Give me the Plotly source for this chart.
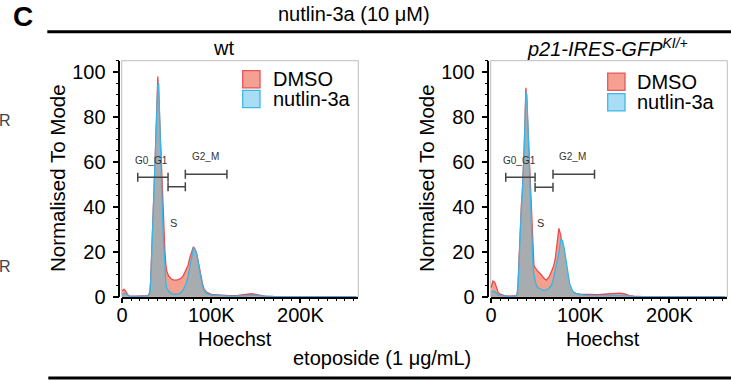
import plotly.graph_objects as go

W, H = 731, 381

# Hoechst intensity (thousands) sampling grid
hoechst_k = [0, 2, 4, 6, 8, 10, 15, 20, 25, 28, 29, 30, 31, 32, 33, 34, 35, 36, 37, 38, 39, 40,
             41, 42, 43, 44, 45, 46, 47, 48, 49, 50, 52, 55, 58, 60, 62, 65, 68, 70, 72, 74, 76,
             78, 80, 82, 84, 86, 88, 90, 92, 95, 100, 110, 120, 130, 140, 145, 150, 155, 160,
             170, 200, 262]

wt_dmso = [2.5, 3.3, 2.5, 1.0, 0.4, 0.2, 0.2, 0.2, 0.3, 0.4, 0.5, 1.0, 2, 7, 20, 30, 40, 50, 60,
           76, 88, 98, 90, 80, 70, 60, 46, 36, 27, 20, 14.5, 11.5, 9.3, 8, 7.4, 7.4, 7.5, 7.9, 9,
           10.5, 12, 14, 17.5, 20.5, 22.2, 21, 18.5, 14.5, 10, 6, 3.3, 1.9, 1.0, 0.7, 0.5, 0.6,
           1.0, 1.3, 1.0, 0.5, 0.2, 0.1, 0.05, 0.05]
wt_nutlin = [1.2, 1.5, 1.2, 0.5, 0.2, 0.1, 0.1, 0.1, 0.2, 0.3, 0.3, 0.6, 1.5, 6, 18, 28, 38, 48,
             58, 72, 85, 94, 95, 78, 66, 54, 40, 28, 19, 11, 6.5, 4, 2.5, 1.5, 1.1, 1.0, 1.1, 1.6,
             2.6, 4, 6, 9, 13, 18.5, 21.7, 21, 18.5, 13.5, 9, 5, 2.8, 1.5, 0.7, 0.4, 0.3, 0.3,
             0.5, 0.7, 0.6, 0.4, 0.2, 0.05, 0.03, 0.03]
p21_dmso = [4, 7, 6.5, 3.5, 1.8, 1.2, 0.5, 0.3, 0.3, 0.5, 1, 4, 14, 26, 35, 41, 47, 55, 65, 79,
            93, 87, 78, 68, 57, 46, 36, 26, 17, 14, 13, 12.3, 11.5, 10.3, 8.8, 7.9, 7.4, 8.8,
            11.5, 13.5, 17, 23.5, 30.4, 27.5, 22, 17, 11, 7, 4.2, 2.8, 2, 1.5, 1.1, 1.0, 0.9,
            1.2, 1.6, 1.6, 1.2, 0.5, 0.2, 0.05, 0.03, 0.03]
p21_nutlin = [2, 2.5, 2.3, 1.5, 0.8, 0.5, 0.2, 0.1, 0.2, 0.3, 0.8, 3, 12, 24, 33, 40, 46, 54, 64,
              78, 91, 90, 78, 67, 55, 43, 28, 18, 13, 10, 8, 6, 4.2, 3.3, 2.8, 2.8, 3, 3.8, 5.5,
              8.2, 11.5, 15, 19.5, 25.3, 25, 21.5, 15.5, 10, 6, 3.8, 2.2, 1.5, 0.9, 0.5, 0.4,
              0.4, 0.6, 0.6, 0.5, 0.3, 0.1, 0.03, 0.02, 0.02]

gate_names = ["G0_G1", "S", "G2_M"]
wt_gate_start = [17.5, 51.5, 70.9]
wt_gate_end = [51.5, 70.9, 117.6]
wt_gate_y = [53.1, 48.9, 54.5]
wt_label_x = [33, 57.8, 93]
wt_label_y = [60.4, 32.6, 62.4]
p21_gate_start = [16.4, 49.3, 69.4]
p21_gate_end = [49.3, 69.4, 116.0]
p21_gate_y = [53.1, 48.7, 54.5]
p21_label_x = [32, 55.5, 91.8]
p21_label_y = [60.4, 32.6, 62.2]

x_tickvals = [0, 100, 200]
x_ticktext = ["0", "100K", "200K"]
series_names = ["DMSO", "nutlin-3a"]

FONT = "Liberation Sans, Arial, sans-serif"
RED_LINE, RED_FILL = "#EE4A4C", "#F4A08F"
CYAN_LINE, GRAY_FILL = "#35B5E8", "#A8ACAF"
LEG_FILL = ["#F4A192", "#A9DDF6"]
LEG_LINE = ["#E8545A", "#3CB7E8"]


def px(x):
    return x / W


def py(y):
    return 1 - y / H


fig = go.Figure()
panels = [
    ("x", "y", wt_dmso, wt_nutlin),
    ("x2", "y2", p21_dmso, p21_nutlin),
]
for xa, ya, dmso, nut in panels:
    fig.add_trace(go.Scatter(x=hoechst_k, y=dmso, mode="lines", fill="tozeroy",
                             fillcolor=RED_FILL, line=dict(color=RED_LINE, width=1.3),
                             xaxis=xa, yaxis=ya, showlegend=False, name=series_names[0]))
    fig.add_trace(go.Scatter(x=hoechst_k, y=nut, mode="lines", fill="tozeroy",
                             fillcolor=GRAY_FILL, line=dict(color=CYAN_LINE, width=1.3),
                             xaxis=xa, yaxis=ya, showlegend=False, name=series_names[1]))

xdom = [[121.7, 358.3], [490.7, 727.3]]
ydom = [py(296.7), py(60.7)]

common_x = dict(range=[-0.5, 265], showline=True, linecolor="black", linewidth=1.5,
                ticks="outside", tickvals=x_tickvals, ticktext=x_ticktext, ticklen=5,
                tickwidth=1.5, tickcolor="black", showgrid=False, zeroline=False,
                automargin=False, ticklabelstandoff=-5,
                tickfont=dict(family=FONT, size=20, color="black"),
                minor=dict(dtick=10, tick0=0, ticks="outside", ticklen=3, tickwidth=1,
                           tickcolor="black", showgrid=False))
common_y = dict(range=[0, 105], showline=True, linecolor="black", linewidth=1.5,
                ticks="outside", dtick=20, tick0=0, ticklen=6, tickwidth=1.5,
                tickcolor="black", showgrid=False, zeroline=False, anchor="free",
                automargin=False, ticklabelstandoff=3,
                tickfont=dict(family=FONT, size=20, color="black"),
                minor=dict(dtick=5, tick0=0, ticks="outside", ticklen=3, tickwidth=1,
                           tickcolor="black", showgrid=False))

fig.update_layout(
    width=W, height=H, margin=dict(l=0, r=0, t=0, b=0, autoexpand=False),
    plot_bgcolor="white", paper_bgcolor="white", showlegend=False,
    font=dict(family=FONT, color="black"),
    xaxis=dict(domain=[px(xdom[0][0]), px(xdom[0][1])], anchor="y", **common_x),
    xaxis2=dict(domain=[px(xdom[1][0]), px(xdom[1][1])], anchor="y2", **common_x),
    yaxis=dict(domain=ydom, position=px(xdom[0][0] - 2.4), **common_y),
    yaxis2=dict(domain=ydom, position=px(xdom[1][0] - 2.4), **common_y),
)

shapes = []
annotations = []
gate_sets = [
    ("x", "y", wt_gate_start, wt_gate_end, wt_gate_y, wt_label_x, wt_label_y),
    ("x2", "y2", p21_gate_start, p21_gate_end, p21_gate_y, p21_label_x, p21_label_y),
]
for xa, ya, gs, ge, gy, lx, ly in gate_sets:
    shapes.append(dict(type="rect", xref=xa + " domain", yref=ya + " domain",
                       x0=0, x1=1, y0=0, y1=1, line=dict(color="#BDBDBD", width=1),
                       layer="below"))
    for i, nm in enumerate(gate_names):
        ln = dict(color="#454545", width=1.5)
        shapes.append(dict(type="line", xref=xa, yref=ya, x0=gs[i], x1=ge[i], y0=gy[i],
                           y1=gy[i], line=ln))
        for xe in (gs[i], ge[i]):
            shapes.append(dict(type="line", xref=xa, yref=ya, x0=xe, x1=xe, y0=gy[i] - 2,
                               y1=gy[i] + 2, line=ln))
        annotations.append(dict(xref=xa, yref=ya, x=lx[i], y=ly[i], text=nm,
                                showarrow=False,
                                font=dict(size=11 if nm == "S" else 10, color="#333333")))

# legends (boxes + labels)
legend_pos = [
    (242.7, [79.2, 99.0], 270.7),
    (607.7, [81.7, 102.3], 634.5),
]
for bx, cys, tx in legend_pos:
    for i, nm in enumerate(series_names):
        shapes.append(dict(type="rect", xref="paper", yref="paper", x0=px(bx),
                           x1=px(bx + 17.3), y0=py(cys[i] + 8.6), y1=py(cys[i] - 8.6),
                           fillcolor=LEG_FILL[i], line=dict(color=LEG_LINE[i], width=1.3)))
        annotations.append(dict(xref="paper", yref="paper", x=px(tx), y=py(cys[i]),
                                xanchor="left", yanchor="middle", text=nm, showarrow=False,
                                font=dict(size=20, color="black")))

# rules
shapes.append(dict(type="line", xref="paper", yref="paper", x0=px(47.3), x1=1,
                   y0=py(31.7), y1=py(31.7), line=dict(color="black", width=3)))
shapes.append(dict(type="line", xref="paper", yref="paper", x0=px(48.3), x1=1,
                   y0=py(378), y1=py(378), line=dict(color="black", width=3)))

texts = [
    (22.5, 17, "<b>C</b>", 28, 0),
    (353.5, 14, "nutlin-3a (10 μM)", 20, 0),
    (382, 358, "etoposide (1 μg/mL)", 20, 0),
    (223, 48, "wt", 20, 0),
    (607, 47, "<i>p21-IRES-GFP</i><sup><i>KI/+</i></sup>", 20, 0),
    (235, 339, "Hoechst", 20, 0),
    (603, 339, "Hoechst", 20, 0),
    (57, 178, "Normalised To Mode", 20.5, -90),
    (426, 178, "Normalised To Mode", 20.5, -90),
]
for x, y, t, s, ang in texts:
    annotations.append(dict(xref="paper", yref="paper", x=px(x), y=py(y), text=t,
                            showarrow=False, textangle=ang, xanchor="center",
                            yanchor="middle", font=dict(size=s, color="black")))
for y in (121, 266):
    annotations.append(dict(xref="paper", yref="paper", x=px(5), y=py(y), text="R",
                            showarrow=False, xanchor="center", yanchor="middle",
                            font=dict(size=16, color="#444444")))

fig.update_layout(shapes=shapes, annotations=annotations)
fig.write_html("out.html", config={"displayModeBar": False},
               post_script="document.body.style.margin='0';document.body.style.padding='0';")
